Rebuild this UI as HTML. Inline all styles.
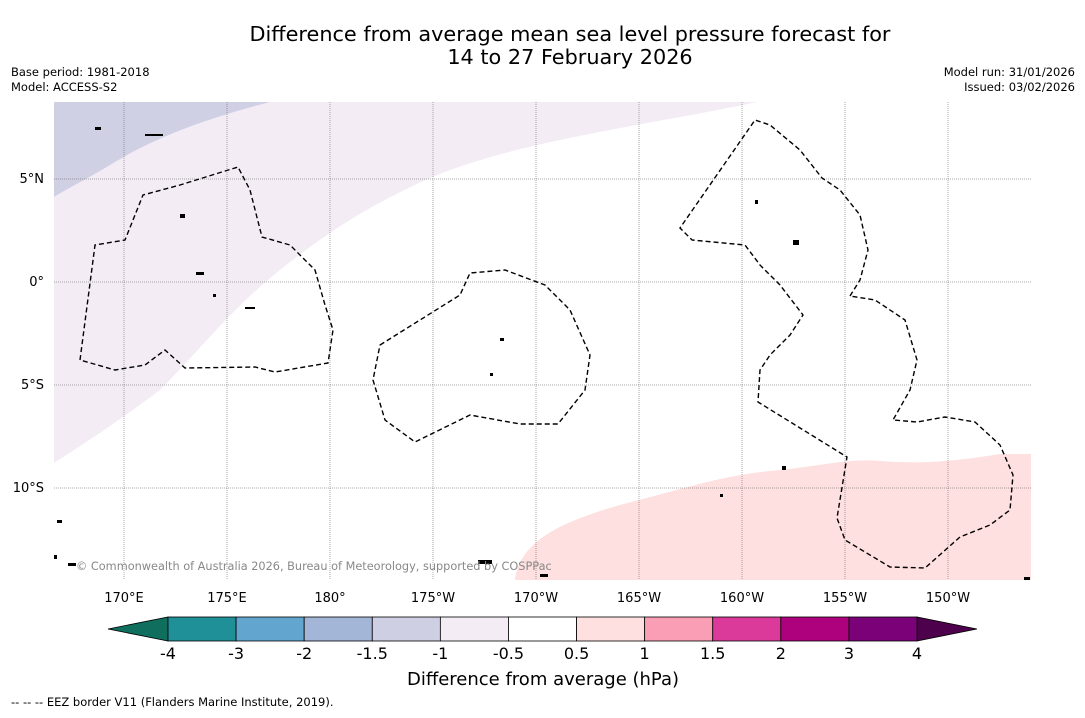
<!DOCTYPE html>
<html><head><meta charset="utf-8"><style>
body{margin:0;background:#fff;font-family:"Liberation Sans",sans-serif;}
svg text{font-family:"DejaVu Sans","Liberation Sans",sans-serif;}
</style></head><body>
<svg id="chart" width="1085" height="713" viewBox="0 0 1085 713" xmlns="http://www.w3.org/2000/svg">
<rect width="1085" height="713" fill="#fff"/>
<text x="570" y="41" font-size="20.8" text-anchor="middle">Difference from average mean sea level pressure forecast for</text>
<text x="570" y="64" font-size="20.8" text-anchor="middle">14 to 27 February 2026</text>
<text x="11" y="76" font-size="11.5">Base period: 1981-2018</text>
<text x="11" y="91" font-size="11.5">Model: ACCESS-S2</text>
<text x="1075" y="76" font-size="11.5" text-anchor="end">Model run: 31/01/2026</text>
<text x="1075" y="91" font-size="11.5" text-anchor="end">Issued: 03/02/2026</text>
<g id="map">
<clipPath id="mc"><rect x="54" y="102" width="977" height="478"/></clipPath>
<g clip-path="url(#mc)">
<path fill="#f3ecf5" d="M54,102 L757,102 C650,125 520,140 430,178 C370,205 330,230 280,270 C230,310 200,350 160,390 C120,420 90,440 54,463 Z"/>
<path fill="#d0d0e4" d="M54,102 L270,102 C200,120 150,140 110,165 C85,180 65,190 54,197 Z"/>
<path fill="#fde0df" d="M515,580 C520,545 550,525 620,505 C680,490 720,475 780,470 C820,466 850,458 880,461 C920,464 950,462 1000,454 L1031,454 L1031,580 Z"/>
</g>
<g id="grid" stroke="#555" stroke-width="0.5" stroke-dasharray="1,1"></g>
<g id="islands" fill="#000">
<rect x="145" y="134" width="18" height="2"/><rect x="95" y="127" width="6" height="3"/><rect x="180" y="214" width="5" height="4"/><rect x="196" y="272" width="8" height="3"/><rect x="213" y="294" width="3" height="3"/><rect x="245" y="307" width="10" height="2"/><rect x="490" y="373" width="3" height="3"/><rect x="500" y="338" width="4" height="3"/><rect x="755" y="200" width="3" height="4"/><rect x="793" y="240" width="6" height="5"/><rect x="782" y="466" width="4" height="4"/><rect x="720" y="494" width="3" height="3"/><rect x="478" y="560" width="14" height="4"/><rect x="57" y="520" width="5" height="3"/><rect x="54" y="555" width="3" height="4"/><rect x="68" y="563" width="8" height="3"/><rect x="540" y="574" width="8" height="3"/><rect x="1024" y="577" width="6" height="3"/>
</g>
<g id="contours" fill="none" stroke="#000" stroke-width="1.4" stroke-dasharray="5,3">
<path d="M80,360 L95,245 L125,240 L143,195 L180,185 L238,167 L250,190 L262,237 L290,245 L315,270 L325,305 L333,330 L328,363 L275,372 L255,367 L185,368 L165,350 L145,365 L115,370 Z"/>
<path d="M380,345 L460,295 L470,273 L505,270 L545,285 L570,310 L590,355 L585,390 L558,424 L520,424 L470,415 L415,442 L385,420 L373,380 Z"/>
<path d="M850,296 L860,280 L868,250 L860,215 L840,190 L822,178 L800,150 L770,125 L755,120 L680,228 L692,240 L745,245 L760,265 L780,285 L803,315 L790,335 L770,355 L760,370 L758,402 L847,457 L837,518 L845,540 L890,567 L925,568 L960,537 L990,525 L1010,510 L1013,475 L1000,445 L975,422 L945,417 L917,422 L893,420 L910,390 L917,360 L905,320 L875,300 Z"/>
</g>
<text x="76" y="570" font-size="11.3" fill="#888">© Commonwealth of Australia 2026, Bureau of Meteorology, supported by COSPPac</text>
</g>
<g id="axes"></g>
<g id="colorbar"></g>
<text x="543" y="685" font-size="18" text-anchor="middle">Difference from average (hPa)</text>
<text x="11" y="706" font-size="11.5">--  --  -- EEZ border V11 (Flanders Marine Institute, 2019).</text>
</svg>
<script>
const lonLabels=["170°E","175°E","180°","175°W","170°W","165°W","160°W","155°W","150°W"];
const lonValues=[170,175,180,185,190,195,200,205,210];
const latLabels=["5°N","0°","5°S","10°S"];
const latValues=[5,0,-5,-10];
const cbLevels=["-4","-3","-2","-1.5","-1","-0.5","0.5","1","1.5","2","3","4"];
const cbColors=["#1f8f98","#62a6d0","#a3b6d8","#cfcfe3","#f3ecf5","#ffffff","#fde0df","#f99eb5","#dc3a9a","#ae017e","#7a0177"];
const NS="http://www.w3.org/2000/svg";
const xLon=v=>124+(v-170)*20.6;
const yLat=v=>282-v*20.6;
function mk(t,a){const e=document.createElementNS(NS,t);for(const k in a)e.setAttribute(k,a[k]);return e;}
const grid=document.getElementById('grid'),axes=document.getElementById('axes');
lonValues.forEach((v,i)=>{
 const l=mk('line',{x1:xLon(v),x2:xLon(v),y1:102,y2:580});
 
 
 grid.appendChild(l);
 const t=mk('text',{x:xLon(v),y:602,'font-size':13,'text-anchor':'middle'});
 
 
 t.textContent=lonLabels[i];axes.appendChild(t);
});
latValues.forEach((v,i)=>{
 const l=mk('line',{x1:54,x2:1031,y1:yLat(v),y2:yLat(v)});
 
 
 grid.appendChild(l);
 const t=mk('text',{x:44,y:yLat(v)+4,'font-size':13,'text-anchor':'end'});
 
 
 t.textContent=latLabels[i];axes.appendChild(t);
});
const cb=document.getElementById('colorbar');
const x0=168,x1=917,y0=617,h=24,w=(x1-x0)/cbColors.length;
const la=mk('polygon',{points:`108,${y0+h/2} ${x0},${y0} ${x0},${y0+h}`,fill:'#0f6e5e',stroke:'#000','stroke-width':0.8});


cb.appendChild(la);
const ra=mk('polygon',{points:`977,${y0+h/2} ${x1},${y0} ${x1},${y0+h}`,fill:'#4d004b',stroke:'#000','stroke-width':0.8});


cb.appendChild(ra);
cbColors.forEach((c,i)=>{
 const r=mk('rect',{x:x0+i*w,y:y0,width:w,height:h,fill:c,stroke:'#000','stroke-width':0.8});
 
 
 cb.appendChild(r);
});
cbLevels.forEach((s,i)=>{
 const t=mk('text',{x:x0+i*w,y:659,'font-size':16,'text-anchor':'middle'});
 
 
 t.textContent=s;cb.appendChild(t);
});
</script>
</body></html>
